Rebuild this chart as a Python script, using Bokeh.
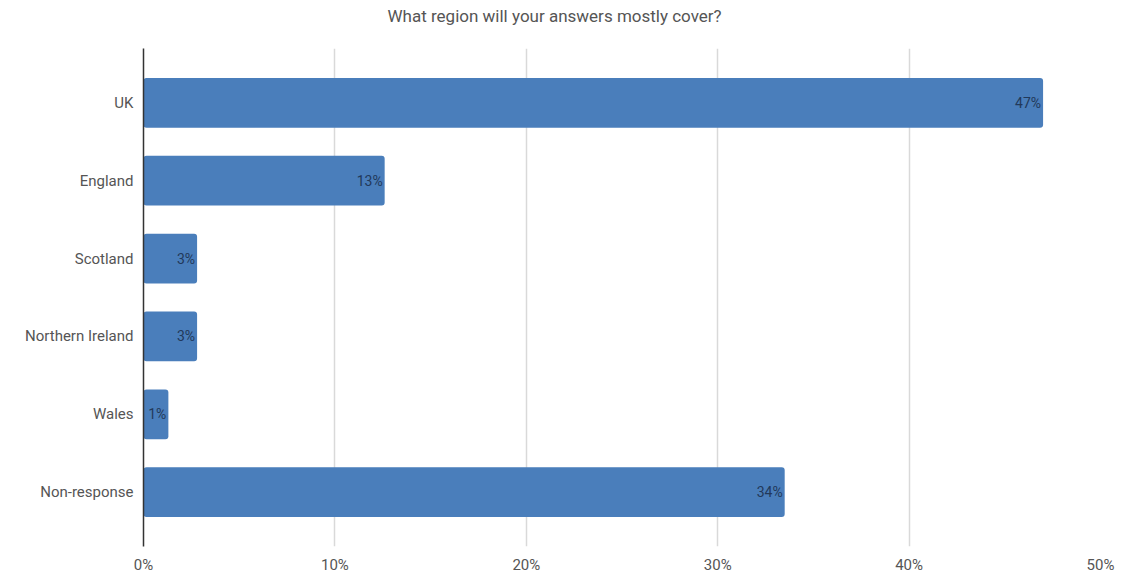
from bokeh.plotting import figure
from bokeh.models import ColumnDataSource, FactorRange, FixedTicker, Range1d, LabelSet, Title, CustomJSTickFormatter
from bokeh.core.properties import value
from bokeh.embed import file_html
from bokeh.resources import INLINE

title_text = "What region will your answers mostly cover?"
regions = ["UK", "England", "Scotland", "Northern Ireland", "Wales", "Non-response"]
shares = [47.0, 12.6, 2.8, 2.8, 1.3, 33.5]
labels = ["47%", "13%", "3%", "3%", "1%", "34%"]
x_ticks = [0, 10, 20, 30, 40, 50]

src = ColumnDataSource(dict(region=regions, share=shares, label=labels))

p = figure(width=1122, height=576, output_backend="svg", toolbar_location=None,
           y_range=FactorRange(factors=list(reversed(regions)), range_padding=0.066),
           x_range=Range1d(0, 50),
           min_border_left=143, min_border_right=22, min_border_top=48, min_border_bottom=28)
p.outline_line_color = None
p.background_fill_color = "white"
p.border_fill_color = "white"

# spacer between title and plot area (closest to the frame)
p.add_layout(Title(text=" ", standoff=5, text_font_size="12px"), "above")
p.add_layout(Title(text=title_text, align="left", offset=244, standoff=0, vertical_align="top",
                   text_font="Roboto", text_font_size="17px", text_font_style="normal",
                   text_color="#555555"), "above")

p.hbar(y="region", right="share", left=0, height=0.64, source=src,
       fill_color="#4a7ebb", line_color=None, border_radius=3)

p.add_layout(LabelSet(x="share", y="region", text="label", source=src,
                      x_offset=-2, text_align="right", text_baseline="middle",
                      text_font=value("Roboto"), text_font_size="14px", text_color="#22395a"))

p.xaxis.ticker = FixedTicker(ticks=x_ticks)
p.xaxis.formatter = CustomJSTickFormatter(code="return tick + '%'")
p.xaxis.axis_line_color = None
p.xaxis.major_tick_line_color = None
p.xaxis.minor_tick_line_color = None
p.xaxis.major_tick_out = 0
p.xaxis.major_tick_in = 0
p.xaxis.major_label_text_font = "Roboto"
p.xaxis.major_label_text_font_size = "15px"
p.xaxis.major_label_text_color = "#555555"
p.xaxis.major_label_standoff = 9

p.yaxis.axis_line_color = "#333333"
p.yaxis.axis_line_width = 1.5
p.yaxis.major_tick_line_color = None
p.yaxis.minor_tick_line_color = None
p.yaxis.major_tick_out = 0
p.yaxis.major_tick_in = 0
p.yaxis.major_label_text_font = "Roboto"
p.yaxis.major_label_text_font_size = "15px"
p.yaxis.major_label_text_color = "#555555"
p.yaxis.major_label_standoff = 10

p.ygrid.grid_line_color = None
p.xgrid.ticker = FixedTicker(ticks=x_ticks)
p.xgrid.grid_line_color = "#d9d9d9"
p.xgrid.grid_line_width = 1.5

open("out.html", "w").write(file_html(p, INLINE))
